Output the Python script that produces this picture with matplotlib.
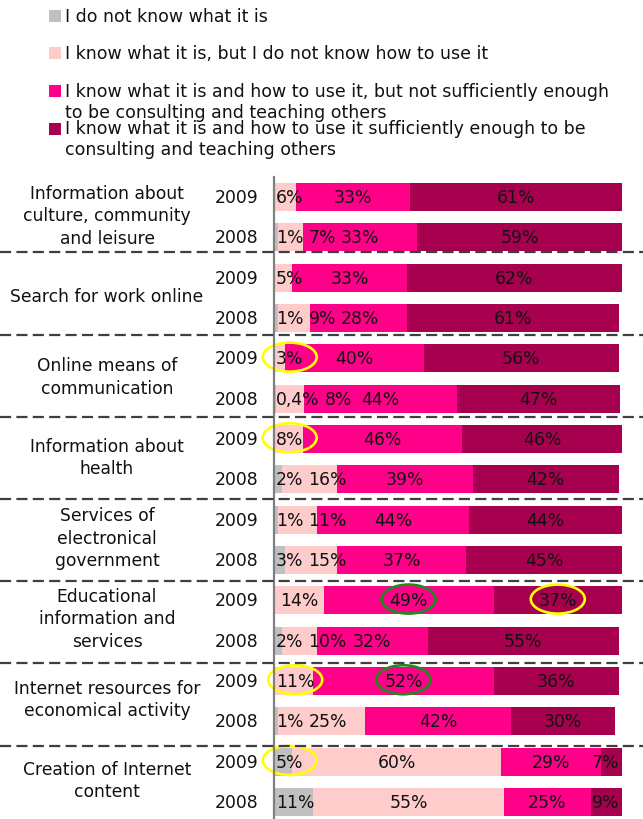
import matplotlib
matplotlib.use("Agg")
import matplotlib.pyplot as plt
from matplotlib.patches import Rectangle, Ellipse
from matplotlib.transforms import blended_transform_factory
import numpy as np

plt.rcParams['font.family'] = ['DejaVu Sans']
plt.rcParams['lines.scale_dashes'] = False

# ---- data ----
categories = [
    "Information about\nculture, community\nand leisure",
    "Search for work online",
    "Online means of\ncommunication",
    "Information about\nhealth",
    "Services of\nelectronical\ngovernment",
    "Educational\ninformation and\nservices",
    "Internet resources for\neconomical activity",
    "Creation of Internet\ncontent",
]
years = ["2009", "2008"]

series_names = [
    "I do not know what it is",
    "I know what it is, but I do not know how to use it",
    "I know what it is and how to use it, but not sufficiently enough\nto be consulting and teaching others",
    "I know what it is and how to use it sufficiently enough to be\nconsulting and teaching others",
]

# one value per bar (2009 row first, then 2008), in percent
dont_know = [0, 1, 0, 1, 0, 0.4, 0, 2, 1, 3, 0, 2, 0, 1, 5, 11]
know_cannot_use = [6, 7, 5, 9, 3, 8, 8, 16, 11, 15, 14, 10, 11, 25, 60, 55]
use_not_teach = [33, 33, 33, 28, 40, 44, 46, 39, 44, 37, 49, 32, 52, 42, 29, 25]
use_and_teach = [61, 59, 62, 61, 56, 47, 46, 42, 44, 45, 37, 55, 36, 30, 7, 9]

# highlighted labels: (bar index, series index, ring colour)
highlights = [
    (4, 1, "yellow"),
    (6, 1, "yellow"),
    (10, 2, "#1f8a1f"),
    (10, 3, "yellow"),
    (12, 1, "yellow"),
    (12, 2, "#1f8a1f"),
    (14, 0, "yellow"),
]

colors = ["#c0c0c0", "#ffcccc", "#ff0088", "#a6004f"]
text_color = "#111111"

# ---- figure ----
W, H = 643, 820
fig = plt.figure(figsize=(W / 100, H / 100), dpi=100)

ax_left, ax_right = 275, 622
ax_top = 178
ax = fig.add_axes([ax_left / W, 0, (ax_right - ax_left) / W, (H - ax_top) / H])

row_pitch = 40.33
first_row_px = 198
y_top = -(first_row_px - ax_top) / row_pitch
y_bottom = y_top + (H - ax_top) / row_pitch
ax.set_xlim(0, 100)
ax.set_ylim(y_bottom, y_top)
ax.axis("off")

# vertical axis line
fig.add_artist(plt.Line2D([274 / W, 274 / W], [0, 1 - ax_top / H], color="#808080", lw=1.6))

series = [dont_know, know_cannot_use, use_not_teach, use_and_teach]
n_bars = len(dont_know)
rows = np.arange(n_bars)
bar_h = 28 / row_pitch

left = np.zeros(n_bars)
for vals, col in zip(series, colors):
    v = np.array(vals, dtype=float)
    ax.barh(rows, v, left=left, height=bar_h, color=col, edgecolor="none")
    left += v

# ---- value labels ----
fig.canvas.draw()
renderer = fig.canvas.get_renderer()
ppu = (ax_right - ax_left) / 100.0  # pixels per percent
label_fs = 12.4
gap = 5


def fmt(v):
    if float(v).is_integer():
        return f"{int(v)}%"
    return f"{v}".replace(".", ",") + "%"


label_pos = {}
for r in rows:
    cum = 0.0
    prev_right = -1e9
    for s, vals in enumerate(series):
        v = vals[r]
        if v > 0:
            t = ax.text(0, r, fmt(v), fontsize=label_fs, ha="center", va="center", color=text_color)
            w = t.get_window_extent(renderer).width
            cx = (cum + v / 2) * ppu
            cx = max(cx, prev_right + gap + w / 2, w / 2 + 1)
            cx = min(cx, 100 * ppu - w / 2 - 3)
            t.set_x(cx / ppu)
            prev_right = cx + w / 2
            label_pos[(r, s)] = cx / ppu
        cum += v

for r, s, col in highlights:
    ax.add_patch(Ellipse((label_pos[(r, s)], r - 0.03), 54 / ppu, 29 / row_pitch,
                         fill=False, edgecolor=col, lw=1.9, clip_on=False))

# ---- category and year labels ----
tr = blended_transform_factory(fig.transFigure, ax.transData)
for k, cat in enumerate(categories):
    ax.text(107 / W, 2 * k + 0.45, cat, transform=tr, ha="center", va="center",
            fontsize=12.3, linespacing=1.32, color=text_color)
for r in rows:
    ax.text(258 / W, r, years[r % 2], transform=tr, ha="right", va="center",
            fontsize=12.4, color=text_color)

# ---- dashed group separators ----
for k in range(len(categories) - 1):
    yp = 253.3 + 82.2 * k
    fig.add_artist(plt.Line2D([0, 1], [1 - yp / H, 1 - yp / H], color="#3f3f3f",
                              lw=1.6, dashes=(8, 3.8)))

# ---- legend ----
legend_y = [16.5, 54, 102.3, 139.8]
square_y = [16.5, 54, 91.5, 129.5]
for name, col, ty, sy in zip(series_names, colors, legend_y, square_y):
    fig.add_artist(Rectangle((49 / W, 1 - (sy + 6) / H), 12 / W, 12 / H,
                             transform=fig.transFigure, color=col, lw=0))
    fig.text(65 / W, 1 - ty / H, name, ha="left", va="center", fontsize=12.5,
             linespacing=1.22, color=text_color)

fig.savefig("out.png", dpi=100)
